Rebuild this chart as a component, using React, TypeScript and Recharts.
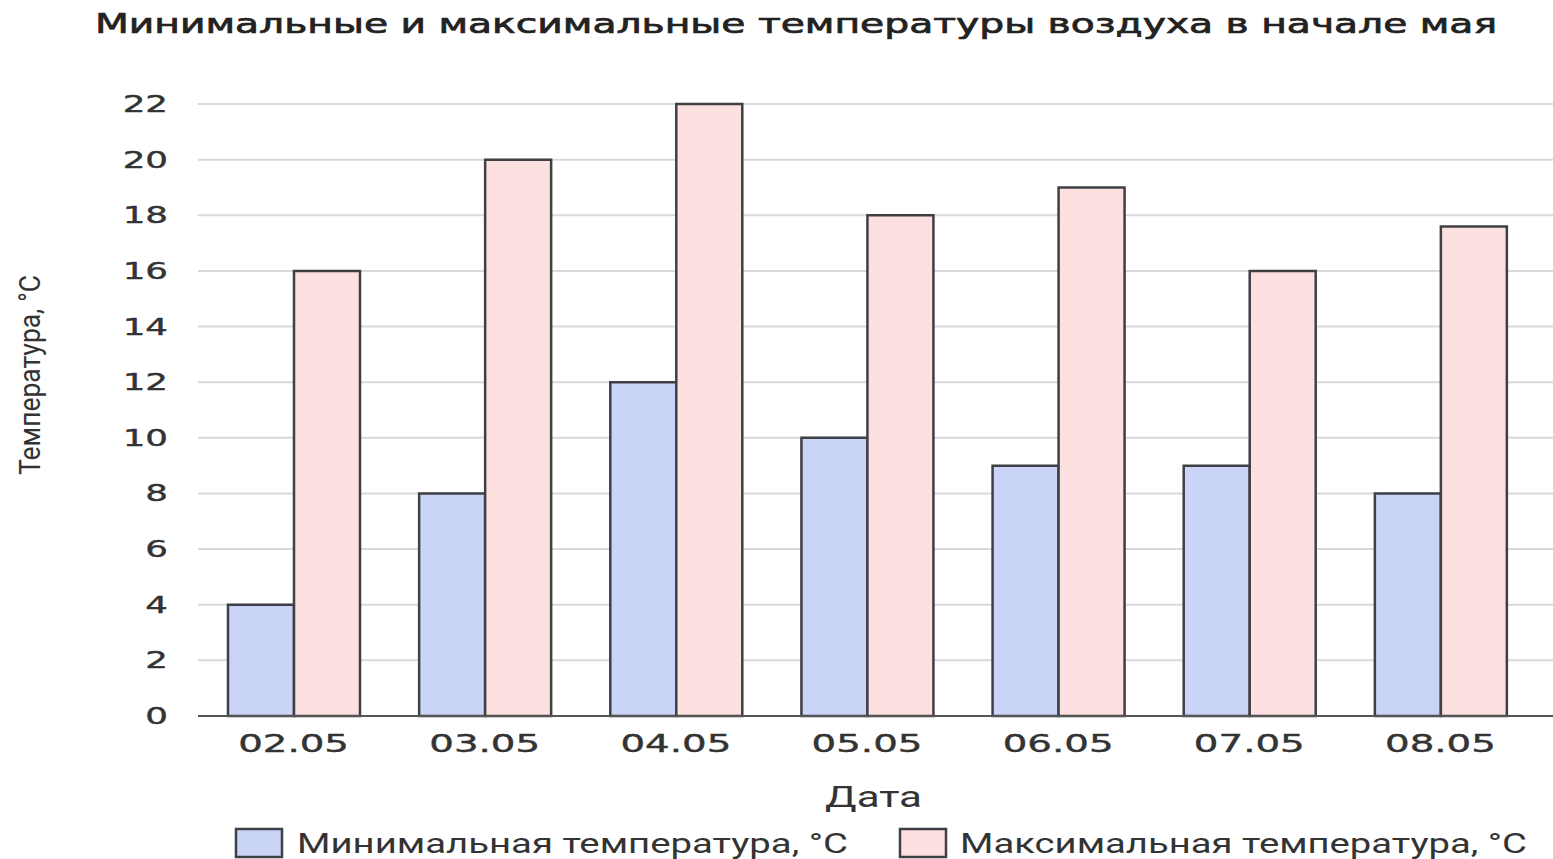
import { BarChart, Bar, XAxis, YAxis, CartesianGrid } from 'recharts';

const dates = ['02.05', '03.05', '04.05', '05.05', '06.05', '07.05', '08.05'];
const minTemps = [4, 8, 12, 10, 9, 9, 8];
const maxTemps = [16, 20, 22, 18, 19, 16, 17.6];
const yTicks = [0, 2, 4, 6, 8, 10, 12, 14, 16, 18, 20, 22];

const TITLE = 'Минимальные и максимальные температуры воздуха в начале мая';
const MIN_LABEL = 'Минимальная температура, °C';
const MAX_LABEL = 'Максимальная температура, °C';

const MIN_FILL = '#c9d4f7';
const MAX_FILL = '#fde0e0';
const EDGE = '#3f3f46';
const FONT = '"DejaVu Sans", sans-serif';
const NARROW = '"Liberation Sans Narrow", "Roboto", sans-serif';

const data = dates.map((d, i) => ({ date: d, min: minTemps[i], max: maxTemps[i] }));

// the source picture is stretched sideways, so text gets a horizontal scale
const XTick = ({ x, y, payload }: any) => (
  <g transform={`translate(${x},${y + 28}) scale(1.55,1)`}>
    <text x={0} y={0} textAnchor="middle" fontSize={25} fill="#333" fontFamily={FONT} stroke="#333" strokeWidth={0.4}>
      {payload.value}
    </text>
  </g>
);

const YTick = ({ x, y, payload }: any) => (
  <g transform={`translate(${x},${y + 8}) scale(1.55,1)`}>
    <text x={0} y={0} textAnchor="end" fontSize={23} fill="#333" fontFamily={FONT} stroke="#333" strokeWidth={0.4}>
      {payload.value}
    </text>
  </g>
);

export default function App() {
  return (
    <div style={{ position: 'absolute', left: 0, top: 0, width: 1553, height: 859, background: '#fff' }}>
      <BarChart
        width={1553}
        height={859}
        data={data}
        margin={{ top: 104, right: 0, bottom: 83, left: 138 }}
        barGap={0}
        barCategoryGap={30}
      >
        <CartesianGrid vertical={false} stroke="#d9d9d9" strokeWidth={2} />
        <XAxis
          dataKey="date"
          height={60}
          padding={{ left: 0, right: 17 }}
          axisLine={{ stroke: '#555', strokeWidth: 2 }}
          tickLine={false}
          tick={<XTick />}
          interval={0}
        />
        <YAxis
          width={60}
          domain={[0, 22]}
          ticks={yTicks}
          axisLine={false}
          tickLine={false}
          tickSize={0}
          tickMargin={30}
          tick={<YTick />}
        />
        <Bar dataKey="min" fill={MIN_FILL} stroke={EDGE} strokeWidth={2.5} isAnimationActive={false} />
        <Bar dataKey="max" fill={MAX_FILL} stroke={EDGE} strokeWidth={2.5} isAnimationActive={false} />
      </BarChart>
      <svg
        width={1553}
        height={859}
        style={{ position: 'absolute', left: 0, top: 0, pointerEvents: 'none' }}
      >
        <text
          x={95}
          y={33}
          fontSize={27}
          fill="#222"
          stroke="#222"
          strokeWidth={0.7}
          fontFamily={FONT}
          textLength={1402}
          lengthAdjust="spacingAndGlyphs"
        >
          {TITLE}
        </text>
        <text
          transform="translate(40,375) rotate(-90)"
          textAnchor="middle"
          fontSize={30}
          fill="#333"
          fontFamily={NARROW}
          textLength={200}
          lengthAdjust="spacingAndGlyphs"
        >
          Температура, °C
        </text>
        <text x={825} y={807} fontSize={29} fill="#333" fontFamily={NARROW} textLength={97} lengthAdjust="spacingAndGlyphs">
          Дата
        </text>
        <rect x={236} y={829} width={46} height={28} fill={MIN_FILL} stroke={EDGE} strokeWidth={2.5} />
        <text x={297} y={853} fontSize={28} fill="#333" fontFamily={NARROW} textLength={551} lengthAdjust="spacingAndGlyphs">
          {MIN_LABEL}
        </text>
        <rect x={900} y={829} width={46} height={28} fill={MAX_FILL} stroke={EDGE} strokeWidth={2.5} />
        <text x={960} y={853} fontSize={28} fill="#333" fontFamily={NARROW} textLength={567} lengthAdjust="spacingAndGlyphs">
          {MAX_LABEL}
        </text>
      </svg>
    </div>
  );
}
